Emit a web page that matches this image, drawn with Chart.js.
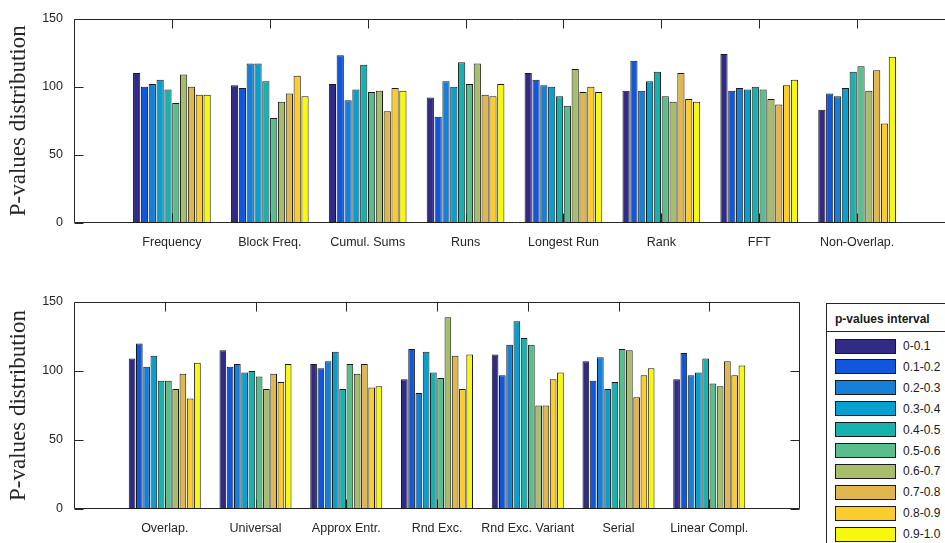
<!DOCTYPE html>
<html>
<head>
<meta charset="utf-8">
<script src="https://cdn.jsdelivr.net/npm/chart.js@4/dist/chart.umd.min.js"></script>
<style>
  html, body { margin: 0; padding: 0; background: #fff; }
  #wrap { position: relative; width: 945px; height: 543px; overflow: hidden; background: #fff; }
  #topChart { position: absolute; left: 0; top: 0; }
  #bottomChart { position: absolute; left: 0; top: 280px; }
  #legend {
    position: absolute; left: 826px; top: 303px; width: 150px; height: 260px;
    border-left: 1px solid #262626; border-top: 1px solid #262626; background: #fff;
    font-family: "Liberation Sans", Arial, sans-serif; font-size: 12px; color: #1a1a1a;
  }
  #legend .title { position: absolute; left: 8px; top: 7px; font-weight: bold; line-height: 16px; }
  #legend .sep { position: absolute; left: 0; top: 27px; width: 150px; height: 0; border-top: 1px solid #262626; }
  #legend .sw { position: absolute; left: 8px; width: 59px; height: 13px; border: 1px solid #1a1a1a; }
  #legend .lab { position: absolute; left: 76px; line-height: 14px; }
</style>
</head>
<body>
<div id="wrap">
  <canvas id="topChart" width="980" height="270"></canvas>
  <canvas id="bottomChart" width="945" height="270"></canvas>
  <div id="legend"></div>
</div>
<script>
// Test names for the two panels
const topCategories = ['Frequency', 'Block Freq.', 'Cumul. Sums', 'Runs', 'Longest Run', 'Rank', 'FFT', 'Non-Overlap.'];
const bottomCategories = ['Overlap.', 'Universal', 'Approx Entr.', 'Rnd Exc.', 'Rnd Exc. Variant', 'Serial', 'Linear Compl.'];

// p-value intervals (one bar per interval in each group)
const intervals = ['0-0.1', '0.1-0.2', '0.2-0.3', '0.3-0.4', '0.4-0.5', '0.5-0.6', '0.6-0.7', '0.7-0.8', '0.8-0.9', '0.9-1.0'];
const intervalColors = ['#312b86', '#0f58de', '#1480d8', '#06a0d0', '#15b2b0', '#5abe8c', '#a6be6a', '#e0b74f', '#fccc2c', '#f8f80e'];

// Counts per interval for each test
const frequency     = [110, 100, 102, 105, 98, 88, 109, 100, 94, 94];
const blockFreq     = [101, 99, 117, 117, 104, 77, 89, 95, 108, 93];
const cumulSums     = [102, 123, 90, 98, 116, 96, 97, 82, 99, 97];
const runs          = [92, 78, 104, 100, 118, 102, 117, 94, 93, 102];
const longestRun    = [110, 105, 101, 100, 93, 86, 113, 96, 100, 96];
const rank          = [97, 119, 97, 104, 111, 93, 89, 110, 91, 89];
const fft           = [124, 97, 99, 98, 100, 98, 91, 87, 101, 105];
const nonOverlap    = [83, 95, 93, 99, 111, 115, 97, 112, 73, 122];

const overlap       = [109, 120, 103, 111, 93, 93, 87, 98, 80, 106];
const universal     = [115, 103, 105, 99, 100, 96, 87, 98, 92, 105];
const approxEntr    = [105, 102, 107, 114, 87, 105, 98, 105, 88, 89];
const rndExc        = [94, 116, 84, 114, 99, 95, 139, 111, 87, 112];
const rndExcVariant = [112, 97, 119, 136, 124, 119, 75, 75, 94, 99];
const serial        = [107, 93, 110, 87, 92, 116, 115, 81, 97, 102];
const linearCompl   = [94, 113, 97, 99, 109, 91, 89, 107, 97, 104];

const yTicks = [0, 50, 100, 150];

const topRows = [frequency, blockFreq, cumulSums, runs, longestRun, rank, fft, nonOverlap];
const bottomRows = [overlap, universal, approxEntr, rndExc, rndExcVariant, serial, linearCompl];

const axisColor = '#262626';
const tickFont = { family: '"Liberation Sans", Arial, sans-serif', size: 12.5 };

// Box around the plot area with inward-pointing tick marks
const axesFrame = {
  id: 'axesFrame',
  beforeDatasetsDraw(chart, args, opts) {
    const { ctx, chartArea: a, scales: { x, y } } = chart;
    const L = Math.round(a.left) + 0.5, R = Math.round(a.right) - 0.5;
    const T = Math.round(a.top) + 0.5, B = Math.round(a.bottom) - 0.5;
    const len = 9;
    ctx.save();
    ctx.strokeStyle = axisColor;
    ctx.lineWidth = 1;
    ctx.beginPath();
    ctx.moveTo(L, T); ctx.lineTo(R, T);
    ctx.moveTo(L, B); ctx.lineTo(R, B);
    ctx.moveTo(L, T); ctx.lineTo(L, B);
    if (opts.right) { ctx.moveTo(R, T); ctx.lineTo(R, B); }
    x.ticks.forEach(t => {
      const px = Math.round(x.getPixelForValue(t.value)) + 0.5;
      ctx.moveTo(px, T); ctx.lineTo(px, T + len);
      ctx.moveTo(px, B); ctx.lineTo(px, B - len);
    });
    y.ticks.forEach(t => {
      const py = Math.round(y.getPixelForValue(t.value)) + 0.5;
      ctx.moveTo(L, py); ctx.lineTo(L + len, py);
      if (opts.right) { ctx.moveTo(R, py); ctx.lineTo(R - len, py); }
    });
    ctx.stroke();
    ctx.restore();
  }
};

function buildDatasets(rows) {
  return intervals.map((label, j) => ({
    label,
    data: rows.map((row, i) => ({ x: i + 1, y: row[j] })),
    backgroundColor: intervalColors[j],
    borderColor: '#1a1a1a',
    borderWidth: 1,
    borderSkipped: false,
    categoryPercentage: 0.8,
    barPercentage: 0.92
  }));
}

function makeChart(id, categories, rows, cfg) {
  return new Chart(document.getElementById(id), {
    type: 'bar',
    data: { datasets: buildDatasets(rows) },
    plugins: [axesFrame],
    options: {
      responsive: false,
      animation: false,
      layout: { padding: { top: cfg.top, right: cfg.right, left: 0, bottom: 0 } },
      plugins: {
        legend: { display: false },
        tooltip: { enabled: false },
        axesFrame: { right: cfg.frameRight }
      },
      scales: {
        x: {
          type: 'linear',
          min: 0,
          max: cfg.xMax,
          offset: false,
          afterBuildTicks: s => { s.ticks = categories.map((_, i) => ({ value: i + 1 })); },
          afterFit: s => { s.height = cfg.xHeight; },
          ticks: {
            autoSkip: false, maxRotation: 0, minRotation: 0, padding: 12,
            color: axisColor, font: tickFont,
            callback: v => categories[Math.round(v) - 1] || ''
          },
          grid: { display: false, drawTicks: false },
          border: { display: false }
        },
        y: {
          min: 0,
          max: 150,
          afterBuildTicks: s => { s.ticks = yTicks.map(v => ({ value: v })); },
          afterFit: s => { s.width = 74; },
          ticks: { padding: 11, color: axisColor, font: tickFont },
          grid: { display: false, drawTicks: false },
          border: { display: false },
          title: {
            display: true,
            text: 'P-values distribution',
            color: axisColor,
            font: { family: '"Liberation Serif", "Times New Roman", serif', size: 23 },
            padding: { top: 5, bottom: 0 }
          }
        }
      }
    }
  });
}

makeChart('topChart', topCategories, topRows, { top: 16, right: 25, xMax: 9, xHeight: 47, frameRight: false });
makeChart('bottomChart', bottomCategories, bottomRows, { top: 22, right: 145, xMax: 8, xHeight: 41, frameRight: true });

// Legend listing the p-value intervals
const legend = document.getElementById('legend');
legend.innerHTML = '<div class="title">p-values interval</div><div class="sep"></div>';
intervals.forEach((label, i) => {
  const cy = 42 + 20.9 * i;
  const sw = document.createElement('div');
  sw.className = 'sw';
  sw.style.top = (cy - 7.5) + 'px';
  sw.style.background = intervalColors[i];
  legend.appendChild(sw);
  const lab = document.createElement('div');
  lab.className = 'lab';
  lab.style.top = (cy - 7) + 'px';
  lab.textContent = label;
  legend.appendChild(lab);
});
</script>
</body>
</html>
